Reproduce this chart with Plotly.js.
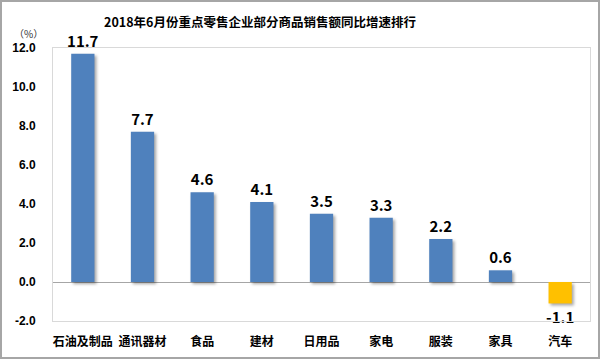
<!DOCTYPE html>
<html>
<head>
<meta charset="utf-8">
<script src="https://cdn.plot.ly/plotly-3.0.1.min.js"></script>
<style>
html,body{margin:0;padding:0;background:#fff;}
#chart{width:600px;height:359px;}
.bars .point path{filter:drop-shadow(2px 2px 1.5px rgba(0,0,0,0.35));}
</style>
</head>
<body>
<div id="chart"></div>
<script>
const categories = ["石油及制品","通讯器材","食品","建材","日用品","家电","服装","家具","汽车"];
const values = [11.7, 7.7, 4.6, 4.1, 3.5, 3.3, 2.2, 0.6, -1.1];
const barColors = ["#4F81BD","#4F81BD","#4F81BD","#4F81BD","#4F81BD","#4F81BD","#4F81BD","#4F81BD","#FFC000"];
const tickVals = [-2, 0, 2, 4, 6, 8, 10, 12];
const tickText = ["-2.0","0.0","2.0","4.0","6.0","8.0","10.0","12.0"];
const titleText = "2018年6月份重点零售企业部分商品销售额同比增速排行";

const FONT = '"Noto Sans CJK SC", "Noto Sans", sans-serif';
const L = 53, R = 10, T = 48, B = 38, W = 600, H = 359;
const pw = W - L - R, ph = H - T - B;

const trace = {
  type: 'bar',
  x: categories,
  y: values,
  marker: {color: barColors, line: {width: 0}},
  text: values.map(v => v.toFixed(1)),
  textposition: 'outside',
  constraintext: 'none',
  textfont: {family: FONT, size: 15, color: '#000', weight: 'bold'},
  cliponaxis: false,
  hoverinfo: 'none'
};

const layout = {
  width: W, height: H,
  margin: {l: L, r: R, t: T, b: B, pad: 0},
  paper_bgcolor: '#ffffff',
  plot_bgcolor: '#ffffff',
  bargap: 0.61,
  showlegend: false,
  font: {family: FONT, color: '#000'},
  xaxis: {
    type: 'category',
    showgrid: false,
    showline: true, mirror: true, linecolor: '#d9d9d9', linewidth: 1,
    ticks: 'outside', ticklen: 10, tickcolor: 'rgba(0,0,0,0)',
    tickfont: {family: FONT, size: 12, color: '#000', weight: 'bold'},
    fixedrange: true
  },
  yaxis: {
    range: [-2, 12],
    tickvals: tickVals,
    ticktext: tickText,
    showgrid: false,
    zeroline: true, zerolinecolor: '#a6a6a6', zerolinewidth: 1,
    showline: true, mirror: true, linecolor: '#d9d9d9', linewidth: 1,
    ticks: 'outside', ticklen: 14, tickcolor: 'rgba(0,0,0,0)',
    tickfont: {family: 'Liberation Sans, Arial, sans-serif', size: 12, color: '#000', weight: 'bold'},
    fixedrange: true
  },
  annotations: [
    {text: titleText, xref: 'paper', yref: 'paper',
     x: (260 - L) / pw, y: 1 + (T - 22) / ph, xanchor: 'center', yanchor: 'middle',
     showarrow: false, font: {family: FONT, size: 12.5, color: '#000', weight: 'bold'}},
    {text: '（%）', xref: 'paper', yref: 'paper',
     x: (28 - L) / pw, y: 1 + (T - 34) / ph, xanchor: 'center', yanchor: 'middle',
     showarrow: false, font: {family: FONT, size: 10, color: '#333'}}
  ],
  shapes: [
    {type: 'rect', xref: 'paper', yref: 'paper',
     x0: (-L + 1) / pw, x1: 1 + (R - 1) / pw, y0: (-B + 1) / ph, y1: 1 + (T - 1) / ph,
     line: {color: '#a6a6a6', width: 2}, fillcolor: 'rgba(0,0,0,0)', layer: 'above'}
  ]
};

Plotly.newPlot('chart', [trace], layout, {displayModeBar: false, staticPlot: true});
</script>
</body>
</html>
